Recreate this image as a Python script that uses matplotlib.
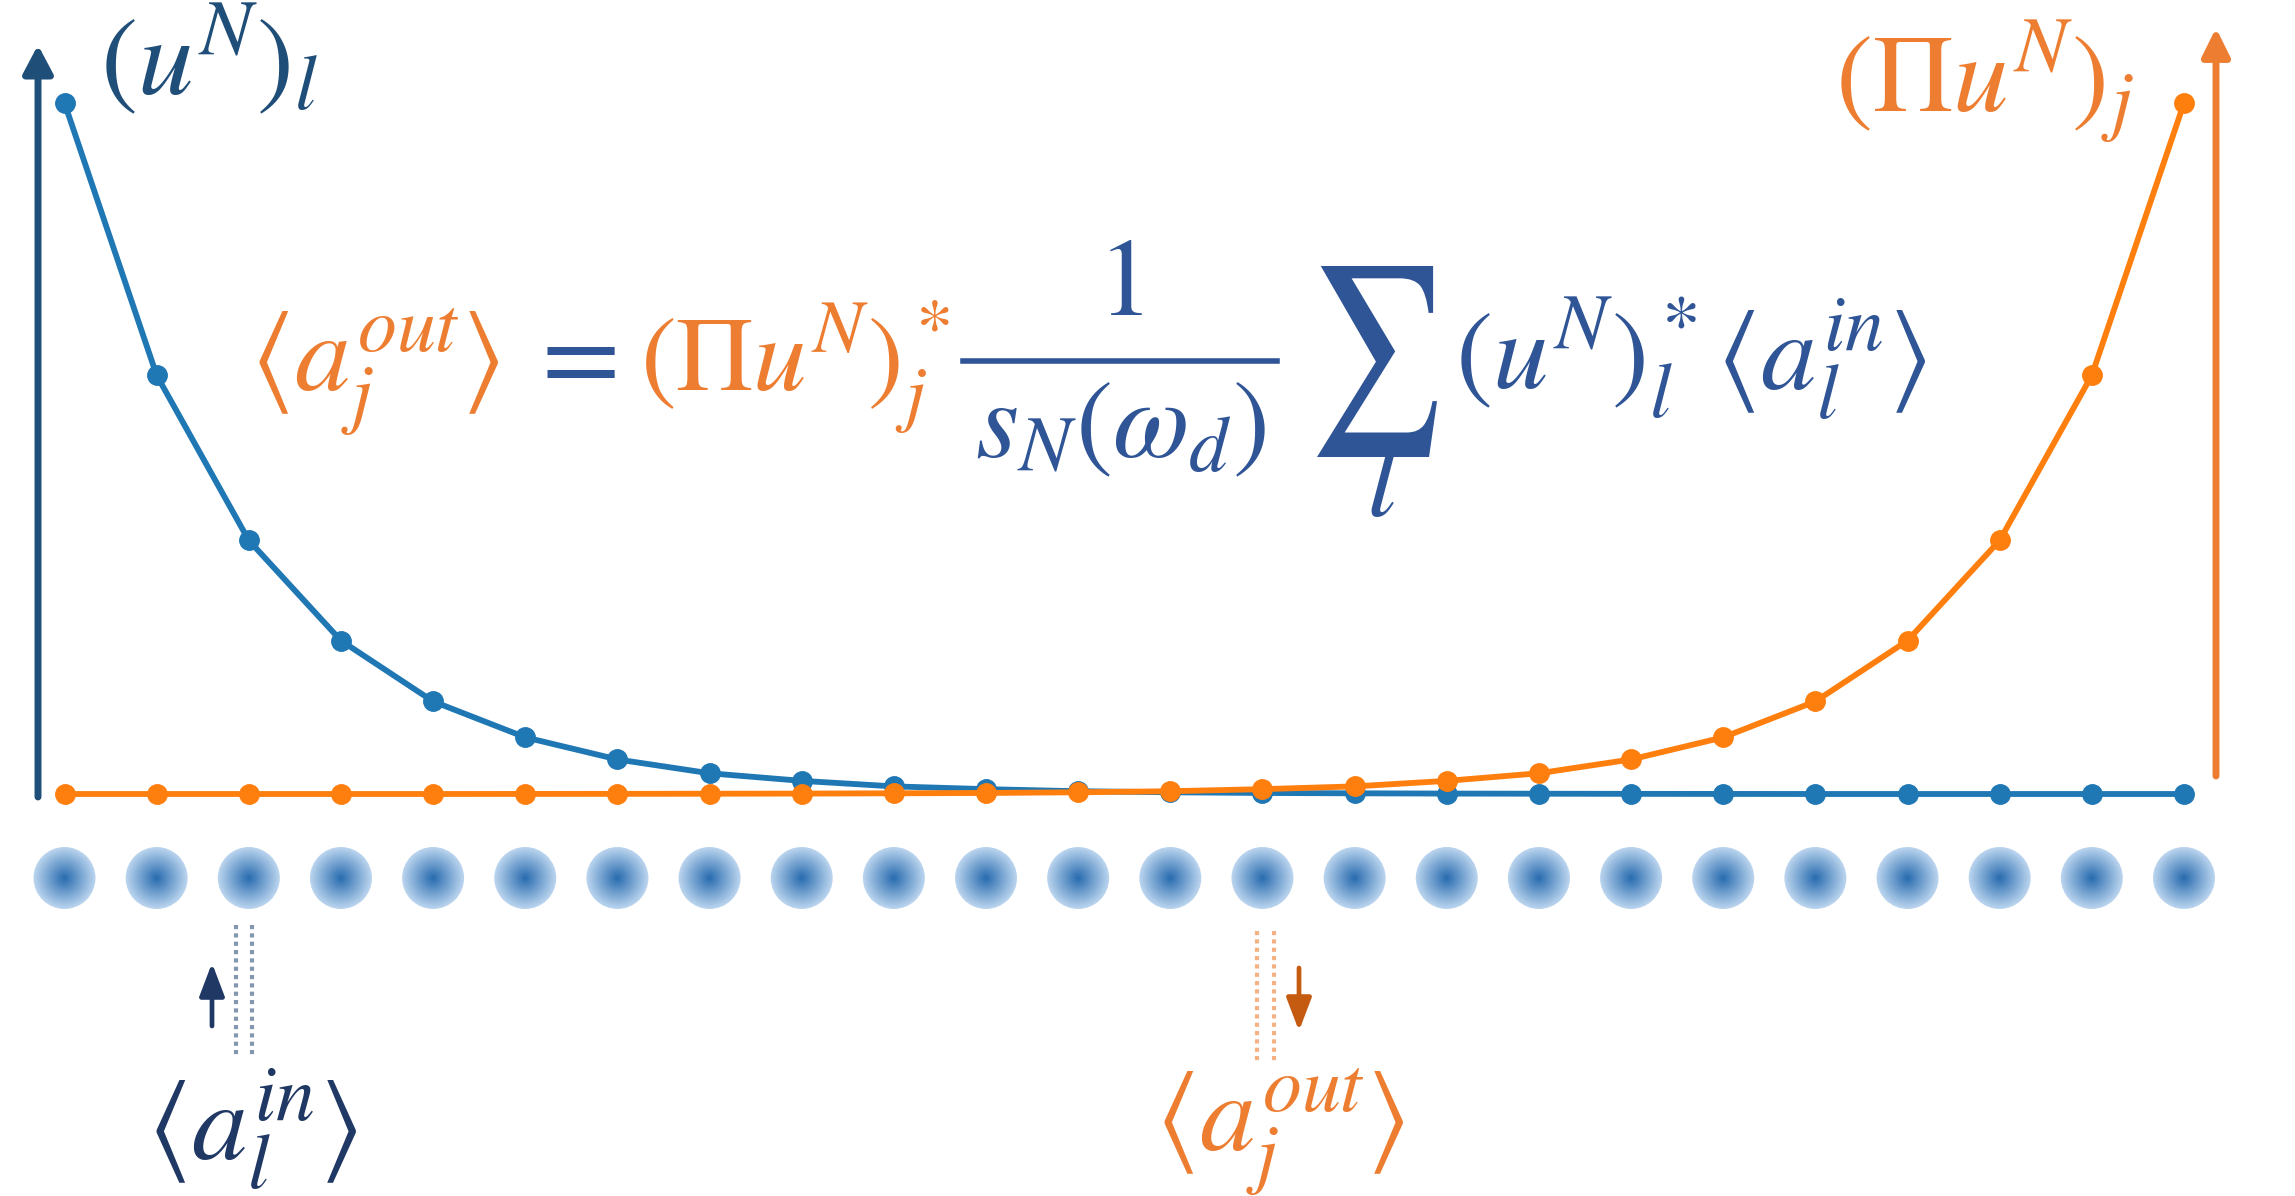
import numpy as np
import matplotlib
matplotlib.use("Agg")
import matplotlib.pyplot as plt
from matplotlib.textpath import TextPath
from matplotlib.patches import PathPatch
from matplotlib.transforms import Affine2D, IdentityTransform

plt.rcParams['mathtext.fontset'] = 'stix'

# values (normalised amplitudes on the 24 sites)
sites = np.arange(1, 25)
u_N = [1.0, 0.606, 0.367, 0.222, 0.134, 0.082, 0.050, 0.030, 0.019, 0.011,
       0.007, 0.004, 0.0025, 0.0015, 0.001, 0.0006, 0.0004, 0.0002, 0.0001,
       0.0, 0.0, 0.0, 0.0, 0.0]
Pi_u_N = [0.0, 0.0, 0.0, 0.0, 0.0, 0.0001, 0.0002, 0.0004, 0.0006, 0.001,
          0.0015, 0.0025, 0.004, 0.007, 0.011, 0.019, 0.030, 0.050, 0.082,
          0.134, 0.222, 0.367, 0.606, 1.0]
site_in = 3
site_out = 14

# colours
c_blue = '#1F77B4'
c_orange = '#FF7F0E'
c_navy = '#1F4E79'
c_eq = '#2F5597'
c_txt_or = '#ED7D31'
c_in = '#1F3864'

W, H = 2295, 1196
fig = plt.figure(figsize=(W / 100, H / 100), dpi=100)

# layout in pixels
x_first, x_last = 64.5, 2184
y_base, y_top = 794, 103
dx = (x_last - x_first) / (len(sites) - 1)
xlo = 1 - x_first / dx
xhi = 1 + (W - x_first) / dx


def fx(x, y):
    return (x / W, 1 - y / H)


# overlay axes: x in site units, y in pixels
ov = fig.add_axes([0, 0, 1, 1])
ov.set_xlim(xlo, xhi)
ov.set_ylim(H, 0)
ov.axis('off')

# curve axes
ax = fig.add_axes([x_first / W, (H - y_base) / H, (x_last - x_first) / W, (y_base - y_top) / H])
ax.set_xlim(1, len(sites))
ax.set_ylim(0, 1)
ax.axis('off')
ax.set_zorder(2)
ax.patch.set_alpha(0)

ax.plot(sites, Pi_u_N, '-o', color=c_orange, lw=4.2, ms=14, clip_on=False, zorder=3)
ax.plot(sites, u_N, '-o', color=c_blue, lw=4.2, ms=14, clip_on=False, zorder=2)

# gaussian blobs for the sites
y_row = 878
d_blob = 60
edge = np.array(matplotlib.colors.to_rgb('#BAD4EE'))
core = np.array(matplotlib.colors.to_rgb('#2A6DB0'))
n_lay = 30
for k in range(n_lay):
    t = k / (n_lay - 1)
    d = d_blob * (1 - t) + 2
    col = edge * (1 - t) + core * t
    ov.scatter(sites, np.full(len(sites), y_row), s=(d * 0.72) ** 2,
               color=col, edgecolors='none', zorder=1)

# dotted input / output lines
ov.plot([site_in - 0.14] * 2, [925, 1056], color='#8497B0', lw=3, ls=(0, (1, 1)))
ov.plot([site_in + 0.03] * 2, [925, 1056], color='#8497B0', lw=3, ls=(0, (1, 1)))
ov.plot([site_out - 0.06] * 2, [931, 1062], color='#F4B183', lw=3, ls=(0, (1, 1)))
ov.plot([site_out + 0.13] * 2, [931, 1062], color='#F4B183', lw=3, ls=(0, (1, 1)))


# arrows
def arrow(x0, y0, x1, y1, color, lw, hl, hw):
    ov.annotate('', xy=fx(x1, y1), xytext=fx(x0, y0), xycoords='figure fraction',
                textcoords='figure fraction',
                arrowprops=dict(arrowstyle='-|>,head_length=%s,head_width=%s' % (hl, hw),
                                lw=lw, color=color, shrinkA=0, shrinkB=0,
                                mutation_scale=20))


arrow(38, 797, 38, 45, c_navy, 5, 0.85, 0.45)
arrow(2216, 776, 2216, 28, c_txt_or, 5, 0.85, 0.42)
arrow(212, 1026, 212, 963, c_in, 3.4, 1.0, 0.38)
arrow(1299, 968, 1299, 1031, '#C55A11', 3.4, 1.0, 0.38)

# labels
fs = 80


def txt(x, y, s, color, size=fs, ha='left', va='baseline'):
    fig.text(*fx(x, y), s, color=color, fontsize=size, ha=ha, va=va)


txt(100, 95, r'$(u^N)_l$', c_navy)
txt(1835, 112, r'$(\Pi u^N)_j$', c_txt_or)
txt(147, 1160, r'$\langle a_l^{in}\rangle$', c_in)
txt(1155, 1150, r'$\langle a_j^{out}\rangle$', c_txt_or)

# formula
txt(250, 390, r'$\langle a_j^{out}\rangle$', c_txt_or)
txt(571, 390, r'$=$', c_eq, size=82, ha='center')
txt(640, 390, r'$(\Pi u^N)_j^*$', c_txt_or, size=77)
txt(1120, 315, r'$1$', c_eq, ha='center')
fig.add_artist(plt.Line2D([963 / W, 1277 / W], [1 - 361 / H] * 2, color=c_eq, lw=4))
txt(1120, 457, r'$s_N(\omega_d)$', c_eq, ha='center')

# big summation sign scaled into its box
tp = TextPath((0, 0), r'$\sum$', size=100)
ext = tp.get_extents()
sx0, sx1, sy_top, sy_bot = 1317, 1437, 266, 457
tr = (Affine2D().translate(-ext.x0, -ext.y0)
      .scale((sx1 - sx0) / ext.width, (sy_bot - sy_top) / ext.height)
      .translate(sx0, H - sy_bot))
fig.add_artist(PathPatch(tr.transform_path(tp), transform=IdentityTransform(),
                         facecolor=c_eq, edgecolor='none'))
txt(1382, 516, r'$l$', c_eq, ha='center')
txt(1455, 390, r'$(u^N)_l^*$', c_eq)
txt(1716, 390, r'$\langle a_l^{in}\rangle$', c_eq)

fig.savefig('out.png', dpi=100)
